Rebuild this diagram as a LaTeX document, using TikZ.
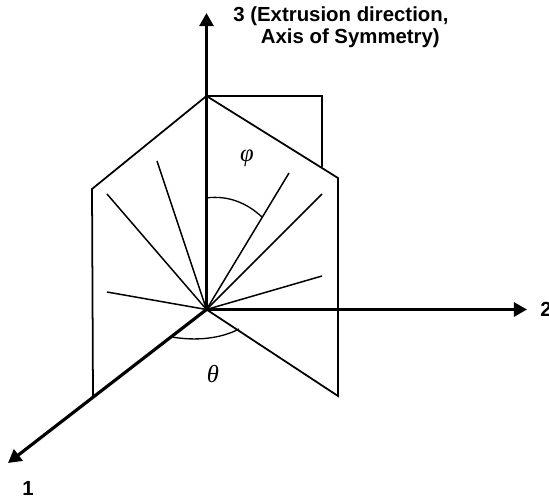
\documentclass[tikz,border=0pt]{standalone}
\usepackage{fontspec}
\setmainfont{Liberation Sans}
\newfontfamily\greekfont{Liberation Serif}
\usepackage{tikz}
\usetikzlibrary{arrows.meta}

\begin{document}
\begin{tikzpicture}[
    x=0.02cm, y=-0.02cm,
    axis/.style={-{Triangle[length=7.5pt,width=8pt]}, line width=1.8pt},
    panel/.style={line width=1pt},
    spoke/.style={line width=0.85pt},
    anglearc/.style={line width=0.75pt},
    axislabel/.style={font=\fontsize{11.6}{13}\selectfont\bfseries, inner sep=0pt, align=left},
    greek/.style={font=\fontsize{14}{16}\selectfont\greekfont\itshape, inner sep=0pt},
]
\useasboundingbox (0,0) rectangle (549,501);

\coordinate (origin) at (206.5,309.5);
\coordinate (end3) at (206.5,13);
\coordinate (end2) at (527,309.5);
\coordinate (end1) at (8,463);
\coordinate (apex) at (206.5,96);

% back panel
\coordinate (backa) at (322,96);
\coordinate (backb) at (322,167);
\draw[spoke] (apex) -- (backa) -- (backb);

% left and right panels
\coordinate (lefta) at (92,189);
\coordinate (leftb) at (93,396);
\coordinate (righta) at (338,178);
\coordinate (rightb) at (338,396);
\draw[panel] (leftb) -- (lefta) -- (apex) -- (righta) -- (rightb) -- (origin);

% spokes
\foreach \px/\py in {157/161, 107/194, 107/292, 289/173, 322/194, 322/276} {
    \coordinate (tip) at (\px,\py);
    \draw[spoke] (origin) -- (tip);
}

% angles
\coordinate (phia) at (206,198);
\coordinate (phib) at (262,217);
\draw[anglearc] (phia) .. controls (228,195) and (247,203) .. (phib);
\coordinate (thetaa) at (172,337);
\coordinate (thetab) at (239,329);
\draw[anglearc] (thetaa) .. controls (195,341) and (220,339) .. (thetab);

\draw[axis] (origin) -- (end3);
\draw[axis] (origin) -- (end2);
\draw[axis] (origin) -- (end1);

\node[axislabel, anchor=north west] (label3) at (233,6) {3 (Extrusion direction,\\\hspace*{1.35em}Axis of Symmetry)};
\node[axislabel, anchor=west] (label2) at (540,309) {2};
\node[axislabel] (label1) at (28,488) {1};
\node[greek] (phi) at (247,158) {φ};
\node[greek] (theta) at (213,374) {θ};

\end{tikzpicture}
\end{document}
